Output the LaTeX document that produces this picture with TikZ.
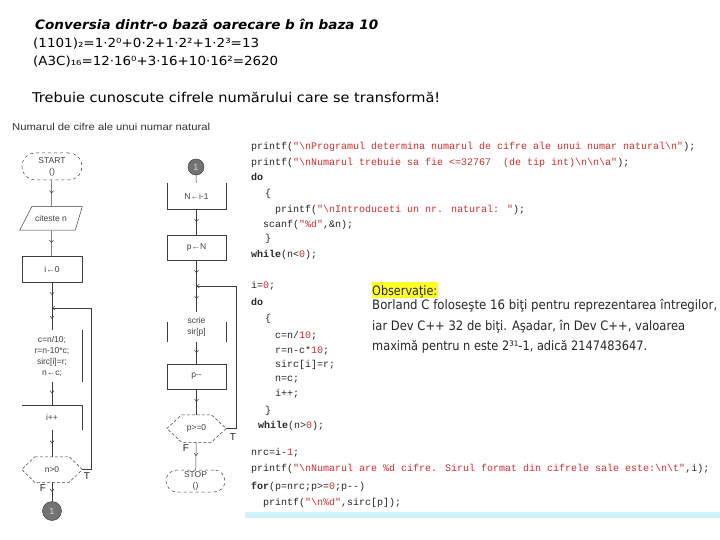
\documentclass[tikz,border=0pt]{standalone}
\usepackage{fontspec}
\usepackage{graphicx}
\setmainfont{DejaVu Sans}
\newfontfamily\arialf{Liberation Sans}
\newfontfamily\courf{Liberation Mono}
\usetikzlibrary{arrows.meta,decorations.markings,calc}
\definecolor{strc}{RGB}{210,45,45}
\definecolor{fcl}{RGB}{60,60,60}
\definecolor{cyanbar}{RGB}{205,242,248}
\definecolor{hiyel}{RGB}{255,255,40}
\newcommand{\bsl}{\textbackslash}
\newcommand{\Strc}[1]{\textcolor{strc}{#1}}
\newcommand{\fitw}[2]{\resizebox{#1}{\height}{#2}}
\tikzset{
  codeline/.style={anchor=base west, inner sep=0pt, font=\courf\fontsize{10}{12}\selectfont, text=black!85},
  plain/.style={anchor=base west, inner sep=0pt},
  midarrow/.style={draw=fcl, line width=0.5pt, postaction={decorate},
    decoration={markings, mark=at position 0.5 with {\arrow{Straight Barb[length=2.5pt,width=4pt]}}}},
  endarrow/.style={draw=fcl, line width=0.5pt, -{Straight Barb[length=2.5pt,width=4pt]}},
  edge/.style={draw=fcl, line width=0.5pt},
  flowbox/.style={draw=fcl, line width=0.5pt, minimum width=60pt, inner sep=1pt,
    font=\arialf\fontsize{8.5}{11}\selectfont, text=black!75, align=center},
  termbox/.style={flowbox, dashed},
  hexline/.style={draw=fcl, line width=0.5pt, densely dashed},
  conn/.style={circle, draw=black!80, fill=black!55, minimum size=19pt, inner sep=0pt,
    font=\arialf\fontsize{9}{10}\selectfont, text=white!85!black},
  flab/.style={font=\arialf\fontsize{10}{10}\selectfont, inner sep=0pt, text=black!85},
}
\begin{document}
\begin{tikzpicture}[x=1pt,y=-1pt]
\useasboundingbox (0,0) rectangle (720,540);
\fill[white] (0,0) rectangle (720,540);

% ---------- header texts ----------
\node[plain] (title) at (35,29.5) {\fitw{343pt}{\fontsize{13}{15}\selectfont\bfseries\itshape Conversia dintr-o bază oarecare b în baza 10}};
\node[plain] (eq1) at (33,48) {\fitw{226pt}{\fontsize{12.5}{15}\selectfont (1101)₂=1·2⁰+0·2+1·2²+1·2³=13}};
\node[plain] (eq2) at (33,65.5) {\fitw{245pt}{\fontsize{12.5}{15}\selectfont (A3C)₁₆=12·16⁰+3·16+10·16²=2620}};
\node[plain] (must) at (32,102.5) {\fitw{408pt}{\fontsize{13.5}{16}\selectfont Trebuie cunoscute cifrele numărului care se transformă!}};
\node[plain, text=black!80] (small) at (12,131) {\fitw{198pt}{\arialf\fontsize{10}{12}\selectfont Numarul de cifre ale unui numar natural}};

% ---------- left flowchart ----------
\node[termbox, minimum height=27pt, rounded corners=13pt] (start) at (52,166.5) {START\\()};
\node[flowbox, draw=none, minimum height=23pt] (read) at (51,218.5) {citeste n};
\draw[edge] ($(read.north west)+(11,0)$) -- ($(read.north east)+(1,0)$) -- ($(read.south east)+(-6,0)$) -- ($(read.south west)+(-1,0)$) -- cycle;
\node[flowbox, minimum height=26pt] (i0) at (52,269) {i←0};
\coordinate (j1) at (52,308);
\node[flowbox, draw=none, minimum height=52pt] (proc) at (52,356) {c=n/10;\\r=n-10*c;\\sirc[i]=r;\\n←c;};
\draw[edge] (proc.north east) -- (proc.south east);
\node[flowbox, draw=none, minimum height=25pt] (incr) at (52,417.5) {i++};
\draw[edge] (incr.south east) -- (incr.north east) -- (incr.north west);
\node[flowbox, draw=none, minimum height=25pt] (d1) at (52,469.5) {n>0};
\draw[hexline] ($(d1.north west)+(13,0)$) -- ($(d1.north east)+(-13,0)$) -- (d1.east) -- ($(d1.south east)+(-13,0)$) -- ($(d1.south west)+(13,0)$) -- (d1.west) -- cycle;
\node[conn] (c1) at (52,511) {1};
\coordinate (l1) at (91,469.5);

\draw[midarrow] (start) -- (read);
\draw[midarrow] (read) -- (i0);
\draw[midarrow] (i0) -- (j1);
\draw[midarrow] (j1) -- (proc);
\draw[midarrow] (proc) -- (incr);
\draw[midarrow] (incr) -- (d1);
\draw[midarrow] (d1) -- (c1);
\draw[endarrow] (d1.east) -- (l1) |- (j1);
\node[flab] (t1) at (87,476) {T};
\node[flab] (f1) at (43,488) {F};

% ---------- right flowchart ----------
\node[conn, minimum size=16pt] (c2) at (196,167) {1};
\node[flowbox, draw=none, minimum width=59pt, minimum height=26pt] (n1) at (196.5,196) {N←i-1};
\draw[edge] (n1.north west) -- (n1.south west) -- (n1.south east) -- (n1.north east);
\node[flowbox, minimum width=59pt, minimum height=25pt] (pN) at (196.5,247.5) {p←N};
\coordinate (j2) at (196.5,286);
\node[flowbox, draw=none, minimum width=59pt, minimum height=30pt] (wr) at (196.5,327) {scrie\\sir[p]};
\draw[edge] (wr.south west) -- ++(0,-20);
\draw[edge] (wr.south east) -- ++(0,-20);
\node[flowbox, minimum width=59pt, minimum height=25pt] (pm) at (196.5,376.5) {p-{}-};
\node[flowbox, draw=none, minimum width=59pt, minimum height=27pt] (d2) at (196.5,428.5) {p>=0};
\draw[hexline] ($(d2.north west)+(15,0)$) -- ($(d2.north east)+(-15,0)$) -- (d2.east) -- ($(d2.south east)+(-15,0)$) -- ($(d2.south west)+(15,0)$) -- (d2.west) -- cycle;
\node[termbox, minimum width=59pt, minimum height=22pt, rounded corners=11pt] (stop) at (195.5,481) {STOP\\()};
\coordinate (l2) at (236,428.5);

\draw[edge] (c2) -- (n1);
\draw[midarrow] (n1) -- (pN);
\draw[midarrow] (pN) -- (j2);
\draw[midarrow] (j2) -- (wr);
\draw[midarrow] (wr) -- (pm);
\draw[midarrow] (pm) -- (d2);
\draw[midarrow] (d2) -- (stop);
\draw[endarrow] (d2.east) -- (l2) |- (j2);
\node[flab] (t2) at (233,437) {T};
\node[flab] (f2) at (186,448) {F};

% ---------- code ----------
\node[codeline] (k1) at (251,149.5) {printf(\Strc{"\bsl nProgramul determina numarul de cifre ale unui numar natural\bsl n"});};
\node[codeline] (k2) at (251,165.5) {printf(\Strc{"\bsl nNumarul trebuie sa fie <=32767~~(de tip int)\bsl n\bsl n\bsl a"});};
\node[codeline] (k3) at (251,181) {\textbf{do}};
\node[codeline] (k4) at (265,196.5) {\{};
\node[codeline] (k5) at (275,212) {printf(\Strc{"\bsl nIntroduceti un nr. natural: "});};
\node[codeline] (k6) at (263,227.5) {scanf(\Strc{"\%d"},\&n);};
\node[codeline] (k7) at (265,241.5) {\}};
\node[codeline] (k8) at (251,258) {\textbf{while}(n<\Strc{0});};

\node[codeline] (m1) at (251,288) {i=\Strc{0};};
\node[codeline] (m2) at (251,305) {\textbf{do}};
\node[codeline] (m3) at (265,321) {\{};
\node[codeline] (m4) at (275,338) {c=n/\Strc{10};};
\node[codeline] (m5) at (275,353) {r=n-c*\Strc{10};};
\node[codeline] (m6) at (275,367) {sirc[i]=r;};
\node[codeline] (m7) at (275,381) {n=c;};
\node[codeline] (m8) at (275,396) {i++;};
\node[codeline] (m9) at (265,413) {\}};
\node[codeline] (m10) at (258,428) {\textbf{while}(n>\Strc{0});};
\node[codeline] (m11) at (251,455) {nrc=i-\Strc{1};};
\node[codeline] (m12) at (251,471) {printf(\Strc{"\bsl nNumarul are \%d cifre. Sirul format din cifrele sale este:\bsl n\bsl t"},i);};
\node[codeline] (m13) at (251,489) {\textbf{for}(p=nrc;p>=\Strc{0};p-{}-)};
\node[codeline] (m14) at (263,505) {printf(\Strc{"\bsl n\%d"},sirc[p]);};
\fill[cyanbar] (245,512) rectangle (720,518);

% ---------- observation ----------
\fill[hiyel] (372,282) rectangle (438,298);
\node[plain, text=black!85] (obs) at (372,295) {\fitw{65pt}{\fontsize{13}{15}\selectfont Observaţie:}};
\node[plain, text=black!85] (o1) at (372,309.5) {\fitw{345pt}{\fontsize{13}{15}\selectfont Borland C foloseşte 16 biţi pentru reprezentarea întregilor,}};
\node[plain, text=black!85] (o2) at (372,330) {\fitw{313pt}{\fontsize{13}{15}\selectfont iar Dev C++ 32 de biţi. Aşadar, în Dev C++, valoarea}};
\node[plain, text=black!85] (o3) at (372,350.5) {\fitw{275pt}{\fontsize{13}{15}\selectfont maximă pentru n este 2³¹-1, adică 2147483647.}};
\end{tikzpicture}
\end{document}
